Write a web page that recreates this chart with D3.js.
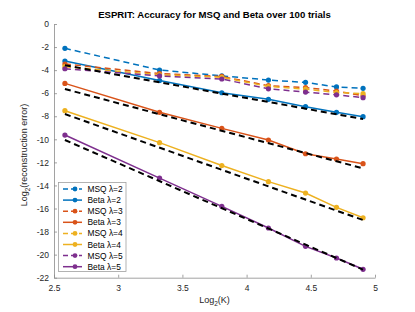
<!DOCTYPE html>
<html>
<head>
<meta charset="utf-8">
<script src="https://cdn.jsdelivr.net/npm/d3@7"></script>
<style>
  body { margin: 0; background: #fff; }
  svg { display: block; font-family: "Liberation Sans", Arial, sans-serif; }
</style>
</head>
<body>
<svg id="viz"></svg>
<script>
// ---------------------------
// Data
// ---------------------------

const log2K = [2.585, 3.322, 3.807, 4.170, 4.459, 4.700, 4.907];

const msq2  = [-2.11, -3.99, -4.50, -4.86, -5.06, -5.46, -5.58];
const beta2 = [-3.21, -4.90, -5.96, -6.53, -7.17, -7.66, -8.04];
const msq3  = [-3.47, -4.30, -4.55, -5.35, -5.51, -5.81, -6.22];
const beta3 = [-5.15, -7.66, -9.05, -10.06, -11.25, -11.71, -12.11];
const msq4  = [-3.70, -4.40, -4.62, -5.42, -5.64, -5.95, -6.03];
const beta4 = [-7.52, -10.29, -12.27, -13.67, -14.66, -15.90, -16.80];
const msq5  = [-3.88, -4.50, -4.77, -5.62, -5.90, -6.14, -6.39];
const beta5 = [-9.63, -13.36, -15.81, -17.69, -19.28, -20.29, -21.27];

// reference lines (end points only)
const refX = [2.585, 4.907];
const ref2 = [-3.58, -8.24];
const ref3 = [-5.64, -12.52];
const ref4 = [-7.81, -17.00];
const ref5 = [-10.06, -21.30];

const xTicks = [2.5, 3, 3.5, 4, 4.5, 5];
const yTicks = [0, -2, -4, -6, -8, -10, -12, -14, -16, -18, -20, -22];

const colors = ["#0072BD", "#D95319", "#EDB120", "#7E2F8E"];

const series = [
    {name: "MSQ \u03bb=2",  values: msq2,  color: colors[0], dashed: true},
    {name: "Beta \u03bb=2", values: beta2, color: colors[0], dashed: false},
    {name: "MSQ \u03bb=3",  values: msq3,  color: colors[1], dashed: true},
    {name: "Beta \u03bb=3", values: beta3, color: colors[1], dashed: false},
    {name: "MSQ \u03bb=4",  values: msq4,  color: colors[2], dashed: true},
    {name: "Beta \u03bb=4", values: beta4, color: colors[2], dashed: false},
    {name: "MSQ \u03bb=5",  values: msq5,  color: colors[3], dashed: true},
    {name: "Beta \u03bb=5", values: beta5, color: colors[3], dashed: false}
];

const refs = [ref2, ref3, ref4, ref5];

// ---------------------------
// Create SVG
// ---------------------------

const width = 415;
const height = 312;

const svg = d3.select("#viz")
    .attr("width", width)
    .attr("height", height)
    .attr("viewBox", `0 0 ${width} ${height}`);

const plotLeft = 54, plotRight = 375, plotTop = 24, plotBottom = 277.7;

const x = d3.scaleLinear().domain([2.5, 5]).range([plotLeft, plotRight]);
const y = d3.scaleLinear().domain([-22, 0]).range([plotBottom, plotTop]);

const axisColor = "#262626";

// axes (ticks inside, like matlab)
const xAxis = svg.append("g")
    .attr("transform", `translate(0,${plotBottom})`)
    .call(d3.axisBottom(x).tickValues(xTicks).tickSizeInner(-3).tickSizeOuter(0).tickPadding(7)
        .tickFormat(d3.format("")));

const yAxis = svg.append("g")
    .attr("transform", `translate(${plotLeft},0)`)
    .call(d3.axisLeft(y).tickValues(yTicks).tickSizeInner(-3).tickSizeOuter(0).tickPadding(5)
        .tickFormat(d => d));

[xAxis, yAxis].forEach(g => {
    g.select(".domain").attr("stroke", "#8a8a8a").attr("stroke-width", 0.8);
    g.selectAll(".tick line").attr("stroke", "#8a8a8a").attr("stroke-width", 0.8);
    g.selectAll(".tick text")
        .attr("fill", axisColor)
        .attr("font-size", 8.5)
        .attr("font-family", "Liberation Sans, Arial, sans-serif");
});

// ---------------------------
// Lines
// ---------------------------

const line = d3.line()
    .x((d, i) => x(log2K[i]))
    .y(d => y(d));

series.forEach(s => {
    svg.append("path")
        .datum(s.values)
        .attr("d", line)
        .attr("fill", "none")
        .attr("stroke", s.color)
        .attr("stroke-width", 1.5)
        .attr("stroke-dasharray", s.dashed ? "6,4" : null);

    svg.append("g")
        .selectAll("circle")
        .data(s.values)
        .join("circle")
        .attr("cx", (d, i) => x(log2K[i]))
        .attr("cy", d => y(d))
        .attr("r", 2.6)
        .attr("fill", s.color);
});

const refLine = d3.line()
    .x((d, i) => x(refX[i]))
    .y(d => y(d));

refs.forEach(r => {
    svg.append("path")
        .datum(r)
        .attr("d", refLine)
        .attr("fill", "none")
        .attr("stroke", "#000")
        .attr("stroke-width", 2)
        .attr("stroke-dasharray", "6,4");
});

// ---------------------------
// Text
// ---------------------------

svg.append("text")
    .attr("x", (plotLeft + plotRight) / 2)
    .attr("y", 17.5)
    .attr("text-anchor", "middle")
    .attr("font-size", 9.6)
    .attr("font-weight", "bold")
    .attr("fill", "#000")
    .text("ESPRIT: Accuracy for MSQ and Beta over 100 trials");

const xl = svg.append("text")
    .attr("x", (plotLeft + plotRight) / 2)
    .attr("y", 303)
    .attr("text-anchor", "middle")
    .attr("font-size", 9)
    .attr("fill", axisColor);
xl.append("tspan").text("Log");
xl.append("tspan").attr("dy", 3).attr("font-size", 6.5).text("2");
xl.append("tspan").attr("dy", -3).text("(K)");

const yl = svg.append("text")
    .attr("transform", "translate(27,155) rotate(-90)")
    .attr("text-anchor", "middle")
    .attr("font-size", 9)
    .attr("fill", axisColor);
yl.append("tspan").text("Log");
yl.append("tspan").attr("dy", 3).attr("font-size", 6.5).text("2");
yl.append("tspan").attr("dy", -3).text("(reconstruction error)");

// ---------------------------
// Legend
// ---------------------------

const legend = svg.append("g");

legend.append("rect")
    .attr("x", 58.5)
    .attr("y", 182.5)
    .attr("width", 67.5)
    .attr("height", 89)
    .attr("fill", "#fff")
    .attr("stroke", "#a0a0a0")
    .attr("stroke-width", 0.8);

series.forEach((s, i) => {
    const ly = 189 + i * 11.1;

    legend.append("line")
        .attr("x1", 63).attr("x2", 82)
        .attr("y1", ly).attr("y2", ly)
        .attr("stroke", s.color)
        .attr("stroke-width", 1.5)
        .attr("stroke-dasharray", s.dashed ? "5,3" : null);

    legend.append("circle")
        .attr("cx", 75).attr("cy", ly)
        .attr("r", 2.4)
        .attr("fill", s.color);

    legend.append("text")
        .attr("x", 87.5)
        .attr("y", ly + 3)
        .attr("font-size", 8.4)
        .attr("fill", "#000")
        .text(s.name);
});
</script>
</body>
</html>
